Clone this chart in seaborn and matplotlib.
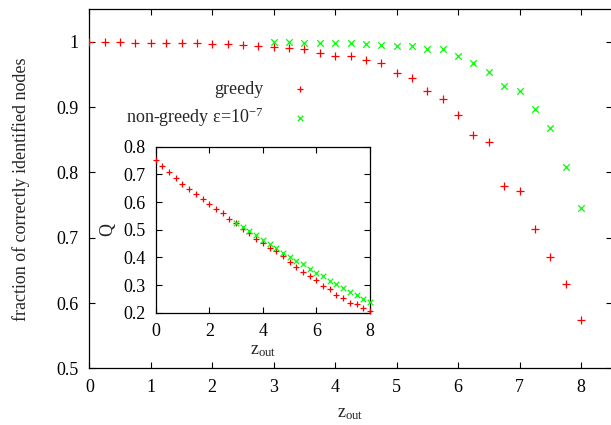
import numpy as np
import pandas as pd
import matplotlib
matplotlib.use("Agg")
import matplotlib.pyplot as plt
import seaborn as sns

# ---- data ----
z_greedy = [0, 0.25, 0.5, 0.75, 1.0, 1.25, 1.5, 1.75, 2.0, 2.25, 2.5, 2.75, 3.0, 3.25,
            3.5, 3.75, 4.0, 4.25, 4.5, 4.75, 5.0, 5.25, 5.5, 5.75, 6.0, 6.25, 6.5,
            6.75, 7.0, 7.25, 7.5, 7.75, 8.0]
frac_greedy = [1.0, 1.0, 0.9995, 0.999, 0.9985, 0.9985, 0.9985, 0.998, 0.9974, 0.9963,
               0.995, 0.994, 0.993, 0.991, 0.989, 0.983, 0.979, 0.978, 0.973, 0.967,
               0.952, 0.944, 0.925, 0.912, 0.888, 0.858, 0.846, 0.780, 0.771, 0.714,
               0.670, 0.629, 0.574]
z_nongreedy = [3.0, 3.25, 3.5, 3.75, 4.0, 4.25, 4.5, 4.75, 5.0, 5.25, 5.5, 5.75, 6.0,
               6.25, 6.5, 6.75, 7.0, 7.25, 7.5, 7.75, 8.0]
frac_nongreedy = [0.9995, 1.0, 0.999, 0.999, 0.9985, 0.9985, 0.997, 0.996, 0.994, 0.994,
                  0.989, 0.989, 0.978, 0.968, 0.954, 0.9325, 0.925, 0.898, 0.868, 0.808,
                  0.745]
Q_greedy = [0.752, 0.730, 0.707, 0.686, 0.665, 0.647, 0.629, 0.611, 0.594, 0.575, 0.559,
            0.540, 0.523, 0.502, 0.487, 0.467, 0.451, 0.435, 0.423, 0.406, 0.383, 0.367,
            0.348, 0.333, 0.318, 0.296, 0.286, 0.265, 0.253, 0.236, 0.230, 0.218, 0.206]
Q_nongreedy = [0.525, 0.511, 0.496, 0.480, 0.463, 0.448, 0.433, 0.417, 0.402, 0.388,
               0.375, 0.359, 0.345, 0.333, 0.316, 0.304, 0.289, 0.275, 0.263, 0.249,
               0.237]

label_greedy = "greedy"
label_nongreedy = "non-greedy ε=10$^{\\mathregular{-7}}$"
xlabel = "z$_\\mathregular{out}$"
ylabel_main = "fraction of correctly identified nodes"
ylabel_inset = "Q"
main_xticks = [0, 1, 2, 3, 4, 5, 6, 7, 8]
main_yticks = [0.5, 0.6, 0.7, 0.8, 0.9, 1.0]
main_yticklabels = ["0.5", "0.6", "0.7", "0.8", "0.9", "1"]
inset_xticks = [0, 2, 4, 6, 8]
inset_yticks = [0.2, 0.3, 0.4, 0.5, 0.6, 0.7, 0.8]
inset_yticklabels = ["0.2", "0.3", "0.4", "0.5", "0.6", "0.7", "0.8"]

df_g = pd.DataFrame({"z": z_greedy, "frac": frac_greedy, "Q": Q_greedy})
df_n = pd.DataFrame({"z": z_nongreedy, "frac": frac_nongreedy, "Q": Q_nongreedy})

sns.set_theme(style="ticks")
plt.rcParams["font.family"] = ["Liberation Serif", "DejaVu Serif"]
plt.rcParams["mathtext.fontset"] = "custom"
plt.rcParams["mathtext.rm"] = "Liberation Serif"
plt.rcParams["mathtext.it"] = "Liberation Serif:italic"
plt.rcParams["mathtext.bf"] = "Liberation Serif:bold"
plt.rcParams["axes.unicode_minus"] = False

FS = 13
RED = "#ff0000"
GREEN = "#00ff00"

fig = plt.figure(figsize=(6.11, 4.25), dpi=100)
ax = fig.add_axes([0.1462, 0.1334, 0.855, 0.8447])


def style_axes(a):
    for s in a.spines.values():
        s.set_visible(True)
        s.set_linewidth(0.9)
        s.set_color("black")
    a.tick_params(axis="both", which="both", direction="in", length=4, width=0.8,
                  top=True, right=True, labelsize=FS, colors="black", pad=7.5)
    a.set_facecolor("white")


sns.scatterplot(data=df_g, x="z", y="frac", marker="+", color=RED, s=30, linewidth=0.9,
                ax=ax, label=label_greedy, zorder=3)
sns.scatterplot(data=df_n, x="z", y="frac", marker="x", color=GREEN, s=22, linewidth=0.9,
                ax=ax, label=label_nongreedy, zorder=3)
ax.set_xlim(0, 8.5)
ax.set_ylim(0.5, 1.05)
ax.set_xticks(main_xticks)
ax.set_xticklabels([str(t) for t in main_xticks])
ax.set_yticks(main_yticks)
ax.set_yticklabels(main_yticklabels)
ax.set_xlabel(xlabel, fontsize=FS, labelpad=7)
ax.set_ylabel(ylabel_main, fontsize=FS, labelpad=19)
style_axes(ax)
for s in ax.spines.values():
    s.set_clip_on(False)

leg = ax.legend(loc="upper right", bbox_to_anchor=(0.4378, 0.800), frameon=False,
                markerfirst=False, fontsize=FS, handlelength=2.0, handletextpad=1.04,
                labelspacing=0.42, borderpad=0, borderaxespad=0)
for h in leg.legend_handles:
    h.set_sizes([16])

# ---- inset ----
axi = fig.add_axes([0.2548, 0.2642, 0.3507, 0.3906])
sns.scatterplot(data=df_g, x="z", y="Q", marker="+", color=RED, s=22, linewidth=0.9,
                ax=axi, legend=False, zorder=3, clip_on=False)
sns.scatterplot(data=df_n, x="z", y="Q", marker="x", color=GREEN, s=16, linewidth=0.9,
                ax=axi, legend=False, zorder=3, clip_on=False)
axi.set_xlim(0, 8)
axi.set_ylim(0.2, 0.8)
axi.set_xticks(inset_xticks)
axi.set_xticklabels([str(t) for t in inset_xticks])
axi.set_yticks(inset_yticks)
axi.set_yticklabels(inset_yticklabels)
axi.set_xlabel(xlabel, fontsize=FS, labelpad=1)
axi.set_ylabel(ylabel_inset, fontsize=FS, labelpad=5)
style_axes(axi)

fig.savefig("out.png", dpi=100)
